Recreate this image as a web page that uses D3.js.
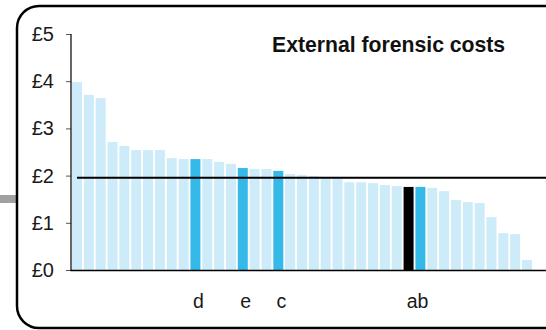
<!DOCTYPE html>
<html>
<head>
<meta charset="utf-8">
<script src="https://cdn.jsdelivr.net/npm/d3@7"></script>
<style>
html,body{margin:0;padding:0;background:#fff;}
svg{display:block;font-family:"Liberation Sans",Arial,sans-serif;}
</style>
</head>
<body>
<svg id="chart" width="546" height="330"></svg>
<script>
// ---- data ----
const values = [3.98, 3.71, 3.64, 2.71, 2.63, 2.54, 2.54, 2.54, 2.37, 2.35,
                2.35, 2.35, 2.29, 2.25, 2.16, 2.14, 2.14, 2.10, 2.03, 2.01,
                1.99, 1.94, 1.93, 1.86, 1.86, 1.84, 1.80, 1.78, 1.76, 1.76,
                1.74, 1.67, 1.48, 1.44, 1.42, 1.12, 0.78, 0.76, 0.21];
const categories = values.map((d, i) => "force" + (i + 1));
const highlighted = [10, 14, 17, 29];
const selected = [28];
const labelTexts = ["d", "e", "c", "ab"];
const labelIndexFrom = [10, 14, 17, 28];
const labelIndexTo = [10, 14, 17, 29];
const meanValue = 1.955;
const yTicks = [0, 1, 2, 3, 4, 5];
const title = "External forensic costs";

// ---- drawing ----
const svg = d3.select("#chart");
const W = 546, H = 330;

// frame
svg.append("rect")
  .attr("x", 0).attr("y", 195).attr("width", 17).attr("height", 8)
  .attr("fill", "#a0a0a0");
svg.append("rect")
  .attr("x", 17).attr("y", 6).attr("width", 560).attr("height", 322)
  .attr("rx", 22).attr("ry", 22)
  .attr("fill", "#fff").attr("stroke", "#000").attr("stroke-width", 2.5);

const x = d3.scaleBand().domain(categories).range([72, 532])
  .paddingInner(0.1556).paddingOuter(0);
const y = d3.scaleLinear().domain([0, 5]).range([270, 34]);

// bars
svg.append("g").selectAll("rect").data(values).join("rect")
  .attr("x", (d, i) => x(categories[i]))
  .attr("y", d => y(d))
  .attr("width", x.bandwidth())
  .attr("height", d => y(0) - y(d))
  .attr("fill", (d, i) => selected.includes(i) ? "#000000"
        : highlighted.includes(i) ? "#35b9e8" : "#cdebf8");

// y axis
const yAxis = d3.axisLeft(y).tickValues(yTicks).tickFormat(d => "£" + d)
  .tickSize(5).tickPadding(12);
const gy = svg.append("g").attr("transform", "translate(71,0)").call(yAxis);
gy.select(".domain").remove();
gy.selectAll(".tick line").attr("stroke", "#555");
gy.selectAll(".tick text").attr("font-size", 20).attr("fill", "#1a1a1a")
  .attr("font-family", "Liberation Sans, Arial, sans-serif");
svg.append("line").attr("x1", 71).attr("x2", 71).attr("y1", y(5)).attr("y2", y(0) + 0.5)
  .attr("stroke", "#000").attr("stroke-width", 1.2);

// x axis baseline
svg.append("line").attr("x1", 70.5).attr("x2", W).attr("y1", y(0) + 0.5).attr("y2", y(0) + 0.5)
  .attr("stroke", "#000").attr("stroke-width", 1.5);

// mean line
svg.append("line").attr("x1", 77).attr("x2", W).attr("y1", y(meanValue)).attr("y2", y(meanValue))
  .attr("stroke", "#000").attr("stroke-width", 2);

// labels
svg.append("g").selectAll("text").data(labelTexts).join("text")
  .attr("x", (d, i) => (x(categories[labelIndexFrom[i]]) + x(categories[labelIndexTo[i]]) + x.bandwidth()) / 2 + 3)
  .attr("y", 308)
  .attr("text-anchor", "middle")
  .attr("font-size", 19.5)
  .attr("fill", "#1a1a1a")
  .text(d => d);

// title
svg.append("text").attr("x", 272).attr("y", 52)
  .attr("font-size", 21.2).attr("font-weight", "bold").attr("fill", "#111")
  .text(title);
</script>
</body>
</html>
